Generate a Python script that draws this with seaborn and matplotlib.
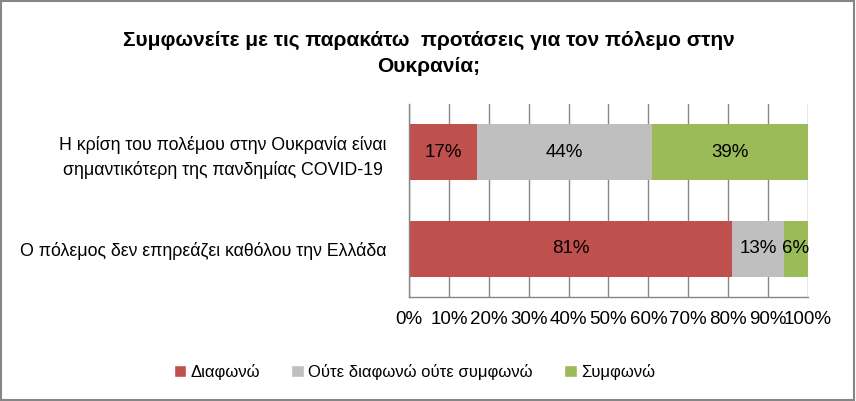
import numpy as np
import pandas as pd
import matplotlib
matplotlib.use('Agg')
import matplotlib.pyplot as plt
import seaborn as sns
from matplotlib.patches import Patch, Rectangle

sns.set_style('white')
plt.rcParams['font.family'] = ['Liberation Sans', 'DejaVu Sans']
plt.rcParams['text.color'] = 'black'
plt.rcParams['xtick.color'] = 'black'
plt.rcParams['ytick.color'] = 'black'

# Data
statements = ['Η κρίση του πολέμου στην Ουκρανία είναι\nσημαντικότερη της πανδημίας COVID-19',
              'Ο πόλεμος δεν επηρεάζει καθόλου την Ελλάδα']
disagree = [17, 81]
neutral = [44, 13]
agree = [39, 6]
series_names = ['Διαφωνώ', 'Ούτε διαφωνώ ούτε συμφωνώ', 'Συμφωνώ']
colors = ['#C0504D', '#BFBFBF', '#9BBB59']
title = 'Συμφωνείτε με τις παρακάτω  προτάσεις για τον πόλεμο στην\nΟυκρανία;'

df = pd.DataFrame({'Statement': statements, 'Disagree': disagree,
                   'Neutral': neutral, 'Agree': agree})
df['cum1'] = df['Disagree']
df['cum2'] = df['Disagree'] + df['Neutral']
df['cum3'] = df['cum2'] + df['Agree']

fig = plt.figure(figsize=(8.56, 4.01), dpi=100)
ax = fig.add_axes([0.4778, 0.2594, 0.4661, 0.4812])

# stacked bars by overdrawing cumulative totals
for col, c in zip(['cum3', 'cum2', 'cum1'], colors[::-1]):
    sns.barplot(data=df, y='Statement', x=col, orient='h', color=c,
                width=0.58, saturation=1, ax=ax, linewidth=0)

# value labels
for i, row in df.iterrows():
    starts = [0, row['cum1'], row['cum2']]
    for s, v in zip(starts, [row['Disagree'], row['Neutral'], row['Agree']]):
        ax.text(s + v / 2, i, f'{v}%', ha='center', va='center', fontsize=13.5)

ax.set_xlim(0, 100)
ax.set_ylim(1.5, -0.5)
ax.set_xticks(np.arange(0, 101, 10))
ax.set_xticklabels([f'{t}%' for t in range(0, 101, 10)], fontsize=13.5)
ax.set_xlabel('')
ax.set_ylabel('')
ax.tick_params(axis='y', which='major', length=0, labelsize=12.8, pad=16)
ax.set_yticks([-0.5, 0.5, 1.5], minor=True)
ax.tick_params(axis='y', which='minor', length=5, color='#868686', width=1)
ax.tick_params(axis='x', length=5, color='#868686', width=1, direction='out', pad=5)
ax.xaxis.grid(True, color='#868686', linewidth=1)
ax.set_axisbelow(True)
for side in ['top', 'right']:
    ax.spines[side].set_visible(False)
for side in ['left', 'bottom']:
    ax.spines[side].set_color('#868686')
    ax.spines[side].set_linewidth(1)
for lab in ax.get_yticklabels():
    lab.set_multialignment('center')
    lab.set_linespacing(1.45)

fig.text(0.501, 0.866, title, ha='center', va='center', fontsize=15,
         fontweight='bold', linespacing=1.45)

handles = [Patch(facecolor=c, label=n) for c, n in zip(colors, series_names)]
fig.legend(handles=handles, loc='center', bbox_to_anchor=(0.484, 0.073), ncol=3,
           frameon=False, fontsize=12, handlelength=0.75, handleheight=0.75,
           columnspacing=1.9, handletextpad=0.25)

fig.patches.append(Rectangle((0.001, 0.002), 0.997, 0.995, transform=fig.transFigure,
                             fill=False, edgecolor='#868686', linewidth=1.5))

fig.savefig('out.png', dpi=100)
